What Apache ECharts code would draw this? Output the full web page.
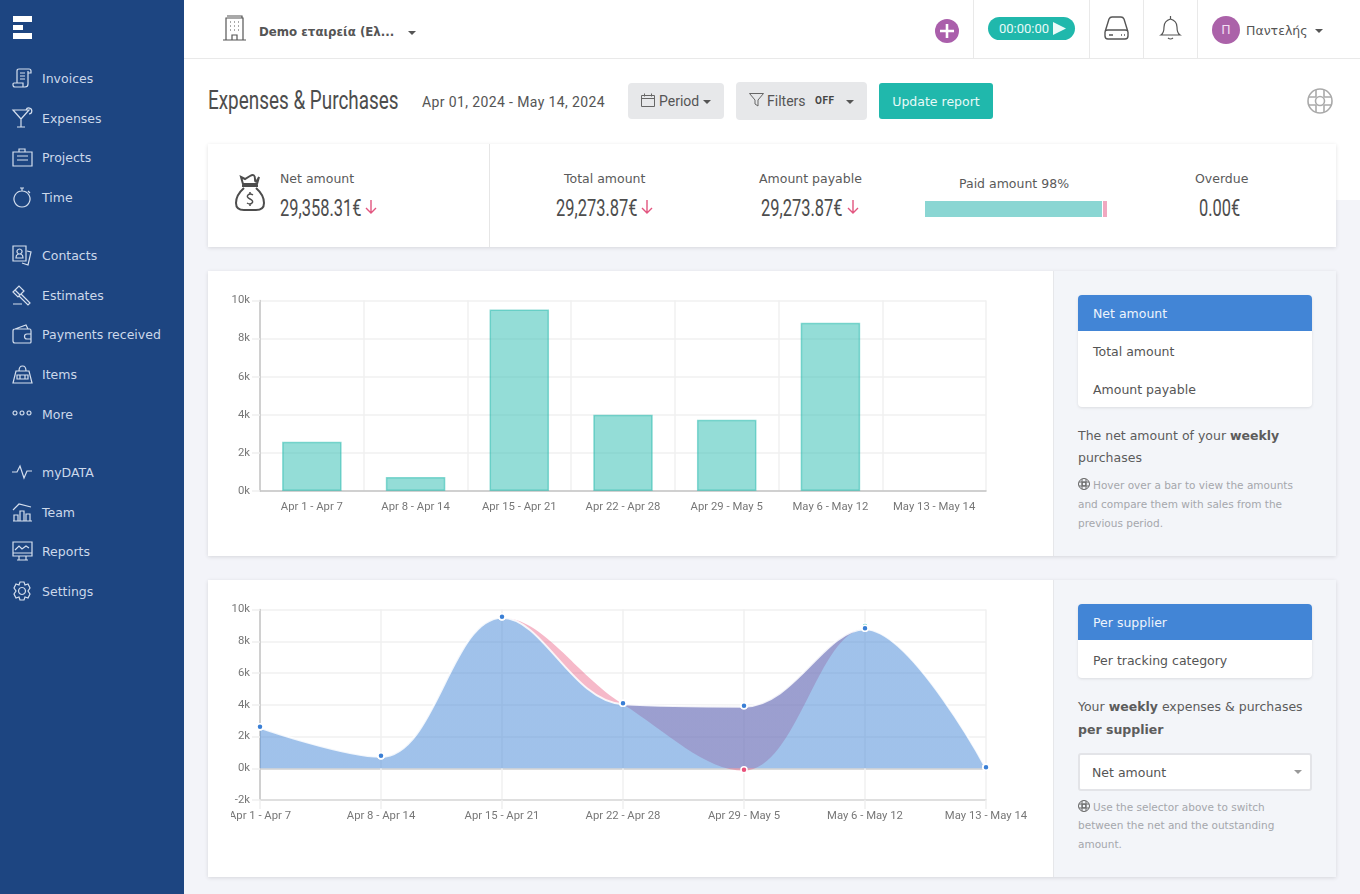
<!DOCTYPE html>
<html>
<head>
<meta charset="utf-8">
<title>Expenses &amp; Purchases</title>
<script src="https://cdn.jsdelivr.net/npm/echarts@6/dist/echarts.min.js"></script>
<style>
  html, body { margin: 0; padding: 0; width: 1360px; height: 894px; overflow: hidden; background: #f3f4f9; font-family: "DejaVu Sans", sans-serif; color: #555; }
  .a { position: absolute; white-space: nowrap; }
  .top-bg { left: 184px; top: 0; width: 1176px; height: 200px; background: #fff; }
  .side { left: 0; top: 0; width: 184px; height: 894px; background: #1d4581; }
  .nav { left: 42px; font-size: 12.5px; line-height: 22px; color: #ccd8ea; }
  .nav-i { left: 12px; width: 20px; height: 20px; fill: none; stroke: #d5dfee; stroke-width: 1.2; }
  .vline { width: 1px; top: 0; height: 58px; background: #e9e9e9; }
  .cond { transform-origin: left center; font-family: Roboto, sans-serif; color: #4d4d4d; }
  .btn { background: #e7e8ea; border-radius: 4px; }
  .din { font-family: Roboto, sans-serif; }
  .caret { width: 0; height: 0; border-left: 4px solid transparent; border-right: 4px solid transparent; border-top: 4px solid #555; }
  .card { background: #fff; box-shadow: 0 1px 4px rgba(0,0,0,.12); }
  .panel { left: 1053px; width: 283px; background: #f3f5f9; border-left: 1px solid #e6e7ea; box-sizing: border-box; }
  .list { left: 1078px; width: 234px; background: #fff; border-radius: 4px; box-shadow: 0 1px 3px rgba(0,0,0,.1); overflow: hidden; }
  .row { position: absolute; left: 0; width: 234px; height: 36px; line-height: 38px; padding-left: 15px; box-sizing: border-box; font-size: 12.5px; color: #555; }
  .row.on { background: #4285d6; color: #eef4fc; }
  .txt { left: 1078px; font-size: 12.5px; line-height: 22px; color: #5c5c5c; }
  .hint { left: 1078px; font-size: 10.5px; line-height: 18px; color: #a5a7ac; }
  .lbl { font-size: 12.5px; line-height: 20px; color: #5a5a5a; }
  svg { overflow: visible; }
</style>
</head>
<body>
<div class="a top-bg"></div>
<div class="a" style="left:184px;top:58px;width:1176px;height:1px;background:#e9e9e9"></div>

<div class="a side"></div>
<svg class="a" style="left:13px;top:16px" width="20" height="23"><path fill="#fff" d="M0 0h19v6H0zM0 9h10v5H0zM0 17h19v6H0z"/></svg>
<div id="navBox"></div>

<svg class="a" style="left:222px;top:15px;fill:none;stroke:#555;stroke-width:1.2" width="25" height="26"><path d="M4 25V3h17v22M1 25h23M5 1h15v2M10 25v-5h5v5M8 7h1M12 7h1M16 7h1M8 11h1M12 11h1M16 11h1M8 15h1M12 15h1M16 15h1"/></svg>
<div class="a" style="left:259px;top:23px;font-size:11.8px;font-weight:700;line-height:18px;color:#555">Demo εταιρεία (Ελ...</div>
<div class="a caret" style="left:408px;top:31px"></div>
<svg class="a" style="left:935px;top:19px" width="24" height="24"><circle cx="12" cy="12" r="12" fill="#aa5fab"/><path d="M12 5v14M5 12h14" stroke="#fff" stroke-width="2.6"/></svg>
<div class="a vline" style="left:973px"></div>
<div class="a din" style="left:988px;top:17px;width:87px;height:23px;border-radius:12px;background:#20b8ac;color:#e8faf8;font-size:13px;line-height:23px;text-indent:11px">00:00:00</div>
<svg class="a" style="left:1053px;top:22px" width="13" height="13"><path d="M0 0l13 6.5L0 13z" fill="#eafaf8"/></svg>
<div class="a vline" style="left:1089px"></div>
<svg class="a" style="left:1104px;top:16px;fill:none;stroke:#555;stroke-width:1.4" width="25" height="24"><path d="M1 16L5 3q1-2 3-2h9q2 0 3 2l4 13M1 16q0-2 3-2h17q3 0 3 2v4q0 3-3 3H4q-3 0-3-3zM5 19h4M17 19h1M20 19h1"/></svg>
<div class="a vline" style="left:1143px"></div>
<svg class="a" style="left:1160px;top:16px;fill:none;stroke:#555;stroke-width:1.2" width="21" height="25"><path d="M10.5 0v3M1 19q3-2 3-8t6.500-8q6.500 2 6.500 8t3 8zM8 22q2.500 2 5 0"/></svg>
<div class="a vline" style="left:1197px"></div>
<div class="a" style="left:1212px;top:16px;width:28px;height:28px;border-radius:14px;background:#ab62a9;color:#f2dff2;font-size:12.5px;line-height:28px;text-align:center">Π</div>
<div class="a" style="left:1246px;top:21px;font-size:12.5px;line-height:20px;color:#555">Παντελής</div>
<div class="a caret" style="left:1315px;top:29px"></div>

<div class="a cond" style="left:208px;top:86px;font-size:25px;line-height:30px;transform:scaleX(.756)">Expenses &amp; Purchases</div>
<div class="a din" style="left:422px;top:93px;font-size:14px;line-height:18px;letter-spacing:.38px;color:#555">Apr 01, 2024 - May 14, 2024</div>
<div class="a btn" style="left:628px;top:83px;width:96px;height:36px"></div>
<svg class="a" style="left:641px;top:93px;fill:none;stroke:#666" width="14" height="14"><path d="M.5 2.500h13v11H.5zM.5 5.500h13M3.500 .5v3M10.500 .5v3"/></svg>
<div class="a din" style="left:659px;top:92px;font-size:14px;line-height:18px">Period</div>
<div class="a caret" style="left:703px;top:100px"></div>
<div class="a btn" style="left:736px;top:82px;width:131px;height:38px"></div>
<svg class="a" style="left:749px;top:93px;fill:none;stroke:#666" width="15" height="14"><path d="M.5 .5h14L9 7v6L6 11V7z"/></svg>
<div class="a din" style="left:767px;top:92px;font-size:14px;line-height:18px">Filters</div>
<div class="a din" style="left:815px;top:94px;font-size:10px;font-weight:700;line-height:14px;letter-spacing:.5px;color:#444">OFF</div>
<div class="a caret" style="left:846px;top:100px"></div>
<div class="a" style="left:879px;top:83px;width:114px;height:36px;border-radius:3px;background:#20b8ac;color:#e8faf8;font-size:12.5px;line-height:37px;text-align:center">Update report</div>
<svg class="a" style="left:1307px;top:88px;fill:none;stroke:#aaa;stroke-width:1.6" width="26" height="26"><circle cx="13" cy="13" r="12"/><circle cx="13" cy="13" r="4.500"/><path d="M9 2v7M17 2v7M9 17v7M17 17v7M2 9h7M2 17h7M17 9h7M17 17h7"/></svg>

<div class="a card" style="left:208px;top:144px;width:1128px;height:103px"></div>
<div class="a" style="left:489px;top:144px;width:1px;height:103px;background:#e6e6e6"></div>
<svg class="a" style="left:235px;top:175px;fill:none;stroke:#4d4d4d;stroke-width:2" width="30" height="37"><path d="M6 2q4 2 4 2t5-3 5 3 4-2l-2 7H8zM7 11h16M9 13Q1 20 1 28q0 7 8 7h12q8 0 8-7 0-8-8-15"/><path d="M18 20q-3-2-5 0t2 4 2 4-5 0M15 17v2M15 31v-2" stroke-width="1.500"/></svg>
<div class="a lbl" style="left:280px;top:169px">Net amount</div>
<div class="a cond" style="left:280px;top:194px;font-size:24px;line-height:28px;transform:scaleX(.685)">29,358.31€</div>
<div class="a lbl" style="left:564px;top:169px">Total amount</div>
<div class="a cond" style="left:556px;top:194px;font-size:24px;line-height:28px;transform:scaleX(.685)">29,273.87€</div>
<div class="a lbl" style="left:759px;top:169px">Amount payable</div>
<div class="a cond" style="left:761px;top:194px;font-size:24px;line-height:28px;transform:scaleX(.685)">29,273.87€</div>
<div class="a lbl" style="left:959px;top:174px">Paid amount 98%</div>
<div class="a" style="left:925px;top:201px;width:177px;height:16px;background:#8ad6d3"></div>
<div class="a" style="left:1103px;top:201px;width:4px;height:16px;background:#f0a8c0"></div>
<div class="a lbl" style="left:1195px;top:169px">Overdue</div>
<div class="a cond" style="left:1199px;top:194px;font-size:24px;line-height:28px;transform:scaleX(.685)">0.00€</div>
<svg class="a" style="left:365px;top:200px;fill:none;stroke:#e2557f;stroke-width:1.4" width="12" height="14"><path d="M6 0v13M1 8l5 5 5-5"/></svg>
<svg class="a" style="left:641px;top:200px;fill:none;stroke:#e2557f;stroke-width:1.4" width="12" height="14"><path d="M6 0v13M1 8l5 5 5-5"/></svg>
<svg class="a" style="left:847px;top:200px;fill:none;stroke:#e2557f;stroke-width:1.4" width="12" height="14"><path d="M6 0v13M1 8l5 5 5-5"/></svg>

<div class="a card" style="left:208px;top:271px;width:1128px;height:285px"></div>
<div class="a panel" style="top:271px;height:285px"></div>
<div id="barChart" class="a" style="left:231px;top:271px;width:800px;height:285px"></div>
<div class="a list" style="top:295px;height:112px">
  <div class="row on" style="top:0">Net amount</div>
  <div class="row" style="top:38px">Total amount</div>
  <div class="row" style="top:76px">Amount payable</div>
</div>
<div class="a txt" style="top:425px">The net amount of your <b>weekly</b></div>
<div class="a txt" style="top:447px">purchases</div>
<div class="a hint" style="top:476px;text-indent:15px">Hover over a bar to view the amounts</div>
<div class="a hint" style="top:495px">and compare them with sales from the</div>
<div class="a hint" style="top:514px">previous period.</div>
<svg class="a" style="left:1078px;top:478px;fill:none;stroke:#666" width="12" height="12"><circle cx="6" cy="6" r="5.500"/><circle cx="6" cy="6" r="2"/><path d="M4 1v10M8 1v10M1 4h10M1 8h10"/></svg>

<div class="a card" style="left:208px;top:580px;width:1128px;height:297px"></div>
<div class="a panel" style="top:580px;height:297px"></div>
<div id="lineChart" class="a" style="left:231px;top:580px;width:800px;height:297px"></div>
<div class="a list" style="top:604px;height:74px">
  <div class="row on" style="top:0">Per supplier</div>
  <div class="row" style="top:38px">Per tracking category</div>
</div>
<div class="a txt" style="top:696px">Your <b>weekly</b> expenses &amp; purchases</div>
<div class="a txt" style="top:719px"><b>per supplier</b></div>
<div class="a" style="left:1078px;top:753px;width:234px;height:38px;box-sizing:border-box;border:2px solid #e3e4e8;border-radius:3px;background:#fff;font-size:12.5px;line-height:36px;padding-left:12px;color:#555">Net amount</div>
<div class="a caret" style="left:1294px;top:770px;border-top-color:#999"></div>
<div class="a hint" style="top:798px;text-indent:15px">Use the selector above to switch</div>
<div class="a hint" style="top:816px">between the net and the outstanding</div>
<div class="a hint" style="top:835px">amount.</div>
<svg class="a" style="left:1078px;top:800px;fill:none;stroke:#666" width="12" height="12"><circle cx="6" cy="6" r="5.500"/><circle cx="6" cy="6" r="2"/><path d="M4 1v10M8 1v10M1 4h10M1 8h10"/></svg>

<script>
  // sidebar
  let navItems = [
    ['Invoices', 78, 'M5 15V3q0-2 2-2h10q2 0 2 2v2h-3M16 3v13q0 3-3 3H3q-2 0-2-2v-1q0-1 1-1h9v4M8 5h5M8 8h5M8 11h5'],
    ['Expenses', 118, 'M1 2l8 9 8-9zM9 11v8M5 19h8M14 2a3 3 0 1 1 3 4'],
    ['Projects', 157, 'M1 5h19v14H1zM7 5V2h6v3M5 9h11M5 13h11'],
    ['Time', 197, 'M10 4a8 8 0 1 0 .01 0M10 1v3M8 1h4M16 4l2 2M10 7v.1M14 12v.1M6 12v.1M10 16v.1M13 8v.1M7 8v.1M13 15v.1M7 15v.1'],
    ['Contacts', 255, 'M1 1h13v15H1zM4 13q0-4 3.500-4t3.500 4zM7.500 4a2.500 2.500 0 1 0 .01 0M15 6l4 1-3 13-6-2'],
    ['Estimates', 295, 'M1 7l6-6 5 5-6 6zM3 5l5 5M9 9l9 9-2 2-9-9M1 19h9'],
    ['Payments received', 334, 'M1 7q0-2 2-2h15q1 0 1 2v11q0 1-1 1H3q-2 0-2-2zM3 5l11-4 2 4M19 10h-4a2.500 2.500 0 0 0 0 5h4'],
    ['Items', 374, 'M4 7h13l3 12H1zM7 7q0-5 3.500-5T14 7M5 11h11v4H5zM8 11v4M13 11v4'],
    ['More', 414, 'M3 7a2 2 0 1 0 .01 0M10 7a2 2 0 1 0 .01 0M17 7a2 2 0 1 0 .01 0'],
    ['myDATA', 472, 'M0 10h5l3-6 4 12 3-7h5'],
    ['Team', 512, 'M1 19h19M2 19v-6h4v6M8 19V9h4v10M14 19v-7h4v7M1 8l6-6 12 3'],
    ['Reports', 551, 'M1 1h19v14H1zM1 12h19M7 15v4M14 15v4M5 19h11M3 9l4-4 3 3 4-3 3 2'],
    ['Settings', 591, 'M10 6.500a3.500 3.500 0 1 0 .01 0M8 1h4l1 3 3-1 2 4-2 3 2 3-2 4-3-1-1 3H8l-1-3-3 1-2-4 2-3-2-3 2-4 3 1z']
  ];
  document.getElementById('navBox').innerHTML = navItems.map(n =>
    '<svg class="a nav-i" style="top:' + (n[1] - 10) + 'px" viewBox="0 0 20 20"><path d="' + n[2] + '"/></svg>' +
    '<div class="a nav" style="top:' + (n[1] - 10) + 'px">' + n[0] + '</div>').join('');

  // data
  let weeks = ['Apr 1 - Apr 7', 'Apr 8 - Apr 14', 'Apr 15 - Apr 21', 'Apr 22 - Apr 28', 'Apr 29 - May 5', 'May 6 - May 12', 'May 13 - May 14'];
  let netBars = [2580, 740, 9530, 4000, 3740, 8830, null];
  let supplierBlue = [2550, 720, 9480, 4030, 3880, 8750, 0];
  let supplierRed = [2550, 720, 9480, 4030, -150, 8750, 0];
  let supplierTeal = [2550, 720, 9480, 4030, 3880, 8900, 0];

  let gridColor = '#f0f0f0';
  let axisColor = '#c4c4c4';
  let labelStyle = { color: '#777', fontFamily: 'Roboto, sans-serif', fontSize: 11.3, padding: [2, 0, 0, 0] };
  let kFormat = v => (v / 1000) + 'k';

  let barChart = echarts.init(document.getElementById('barChart'), null, { renderer: 'canvas' });
  barChart.setOption({
    animation: false,
    grid: { left: 29, top: 29.5, width: 726, height: 190.5, outerBoundsMode: 'none' },
    xAxis: {
      type: 'category',
      data: weeks,
      axisLine: { lineStyle: { color: axisColor, width: 1.5 } },
      axisTick: { length: 9, lineStyle: { color: gridColor, width: 1.5 } },
      axisLabel: Object.assign({ interval: 0, margin: 9 }, labelStyle),
      splitLine: { show: true, lineStyle: { color: gridColor, width: 1.5 } }
    },
    yAxis: {
      type: 'value',
      min: 0,
      max: 10000,
      interval: 2000,
      axisLine: { show: true, lineStyle: { color: axisColor, width: 1.5 } },
      axisTick: { show: true, length: 8, lineStyle: { color: gridColor, width: 1.5 } },
      axisLabel: Object.assign({ formatter: kFormat, margin: 10 }, labelStyle),
      splitLine: { lineStyle: { color: gridColor, width: 1.5 } }
    },
    series: [{
      type: 'bar',
      data: netBars,
      barWidth: 59.5,
      itemStyle: { color: 'rgba(32,184,172,.48)', borderColor: 'rgba(32,184,172,.5)', borderWidth: 1.5 }
    }]
  });

  // pink band is the fill between the two curves: stacked on the blue one
  let bandGap = supplierRed.map((v, i) => v - supplierBlue[i]);
  let dot = color => ({ color: color, borderColor: '#fff', borderWidth: 1.5 });
  let blueFill = 'rgba(66,133,214,.5)';
  let pinkFill = 'rgba(232,80,120,.4)';
  let curveColor = 'rgba(255,255,255,.85)';
  let none = 'rgba(255,255,255,0)';
  // hard cut at May 6 (5 of 6 steps along the axis)
  let upToMay6 = c => new echarts.graphic.LinearGradient(0, 0, 1, 0, [
    { offset: 0, color: c }, { offset: 5 / 6, color: c }, { offset: 5 / 6, color: none }, { offset: 1, color: none }
  ]);
  let fromMay6 = c => new echarts.graphic.LinearGradient(0, 0, 1, 0, [
    { offset: 0, color: none }, { offset: 5 / 6, color: none }, { offset: 5 / 6, color: c }, { offset: 1, color: c }
  ]);
  let curveSmooth = 0.38;

  let lineChart = echarts.init(document.getElementById('lineChart'), null, { renderer: 'canvas' });
  lineChart.setOption({
    animation: false,
    grid: { left: 29, top: 29.5, width: 726, height: 190.5, outerBoundsMode: 'none' },
    xAxis: {
      type: 'category',
      data: weeks,
      boundaryGap: false,
      axisLine: { onZero: false, lineStyle: { color: '#dddddd', width: 1.5 } },
      axisTick: { length: 9, lineStyle: { color: gridColor, width: 1.5 } },
      axisLabel: Object.assign({ interval: 0, margin: 9 }, labelStyle),
      splitLine: { show: true, lineStyle: { color: gridColor, width: 1.5 } }
    },
    yAxis: {
      type: 'value',
      min: -2000,
      max: 10000,
      interval: 2000,
      axisLine: { show: true, lineStyle: { color: axisColor, width: 1.5 } },
      axisTick: { show: true, length: 8, lineStyle: { color: gridColor, width: 1.5 } },
      axisLabel: Object.assign({ formatter: kFormat, margin: 10 }, labelStyle),
      splitLine: { lineStyle: { color: ['#dddddd', '#cfcfcf', gridColor, gridColor, gridColor, gridColor, gridColor], width: 1.5 } }
    },
    series: [
      {
        name: 'blue',
        type: 'line',
        data: supplierBlue,
        smooth: curveSmooth,
        stack: 'band',
        stackStrategy: 'all',
        symbol: 'none',
        lineStyle: { color: upToMay6(curveColor), width: 2 },
        areaStyle: { color: upToMay6(blueFill), origin: 0, opacity: 1 },
        z: 4
      },
      {
        name: 'band',
        type: 'line',
        data: bandGap,
        smooth: curveSmooth,
        stack: 'band',
        stackStrategy: 'all',
        symbol: 'none',
        lineStyle: { width: 0 },
        areaStyle: { color: upToMay6(pinkFill), opacity: 1 },
        z: 3
      },
      {
        name: 'blueTail',
        type: 'line',
        data: supplierRed,
        smooth: curveSmooth,
        symbol: 'none',
        lineStyle: { color: fromMay6(curveColor), width: 2 },
        areaStyle: { color: fromMay6(blueFill), origin: 0, opacity: 1 },
        z: 4
      },
      {
        name: 'teal',
        type: 'line',
        data: supplierTeal,
        symbol: 'circle',
        symbolSize: 6,
        symbolOffset: [0, -1],
        lineStyle: { width: 0 },
        itemStyle: dot('#20b8ac'),
        z: 5
      },
      {
        name: 'red',
        type: 'line',
        data: supplierRed,
        symbol: 'circle',
        symbolSize: 6,
        symbolOffset: [0, -1],
        lineStyle: { width: 0 },
        itemStyle: dot('#e8507a'),
        z: 6
      },
      {
        name: 'blueDots',
        type: 'line',
        data: supplierBlue,
        symbol: 'circle',
        symbolSize: 6,
        symbolOffset: [0, -1],
        lineStyle: { width: 0 },
        itemStyle: dot('#3a7fd5'),
        z: 7
      }
    ]
  });
</script>
</body>
</html>
